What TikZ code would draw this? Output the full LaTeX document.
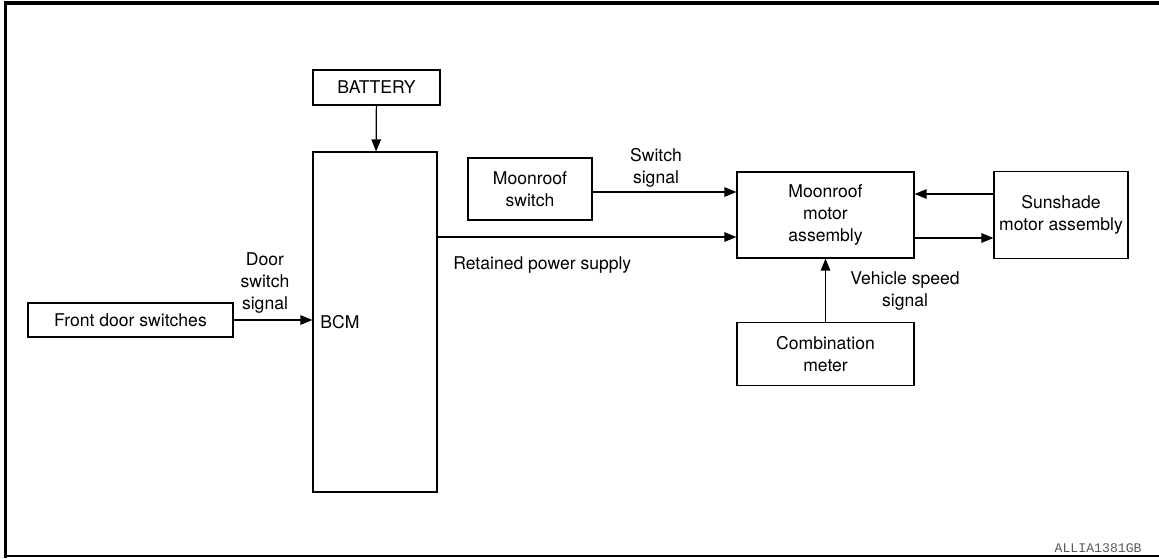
\documentclass[tikz,border=0pt]{standalone}
\usepackage{fontspec}
\setmainfont{TeX Gyre Heros}
\setmonofont{Liberation Mono}
\usetikzlibrary{arrows.meta}

\begin{document}
\begin{tikzpicture}[x=0.02cm, y=-0.02cm, >={Triangle[length=2.4mm,width=1.9mm]},
    font=\fontsize{10}{12.5}\selectfont,
    blk/.style={draw, line width=0.7pt, inner sep=0pt, align=center},
    sig/.style={->, line width=0.7pt},
    lbl/.style={inner sep=0pt, align=center}]
  \useasboundingbox (0,0) rectangle (1159,558);

  % --- marco ---
  \draw[line width=2.2pt] (1159,3) -- (5.5,3) -- (5.5,558);
  \draw[line width=0.9pt] (4,556) -- (1159,556);

  % --- bloques ---
  \node[blk, minimum width=2.54cm, minimum height=0.7cm] (bat) at (376.5,87.5) {BATTERY};
  \node[blk, minimum width=2.48cm, minimum height=6.8cm,
        label={[xshift=-7mm]center:BCM}] (bcm) at (375,322) {};
  \node[blk, minimum width=4.1cm, minimum height=0.68cm] (door) at (130.5,320) {Front door switches};
  \node[blk, minimum width=2.48cm, minimum height=1.24cm] (msw) at (530,189) {Moonroof\\switch};
  \node[blk, minimum width=3.54cm, minimum height=1.72cm] (mot) at (825.5,215) {Moonroof\\motor\\assembly};
  \node[blk, minimum width=2.68cm, minimum height=1.74cm] (sun) at (1061,215) {Sunshade\\motor assembly};
  \node[blk, minimum width=3.54cm, minimum height=1.26cm] (comb) at (825.5,354) {Combination\\meter};

  % --- conexiones ---
  \draw[sig] (bat) -- (bcm);
  \draw[sig] (door) -- (door -| bcm.west);
  \draw[sig] (msw.east |- 0,192) -- (mot.west |- 0,192);
  \draw[sig] (bcm.east |- 0,237) -- (mot.west |- 0,237);
  \draw[sig] (sun.west |- 0,194) -- (mot.east |- 0,194);
  \draw[sig] (mot.east |- 0,238) -- (sun.west |- 0,238);
  \draw[sig] (comb) -- (mot);

  % --- etiquetas ---
  \node[lbl] (ldoor) at (265,283) {Door\\switch\\signal};
  \node[lbl] (lsw) at (656,168) {Switch\\signal};
  \node[lbl, anchor=west] (lret) at (453,265) {Retained power supply};
  \node[lbl] (lspd) at (905,291) {Vehicle speed\\signal};
  \node[lbl, anchor=south east, text=black!65, font=\ttfamily\fontsize{7.5}{9}\selectfont] (code) at (1142,553) {ALLIA1381GB};
\end{tikzpicture}
\end{document}
